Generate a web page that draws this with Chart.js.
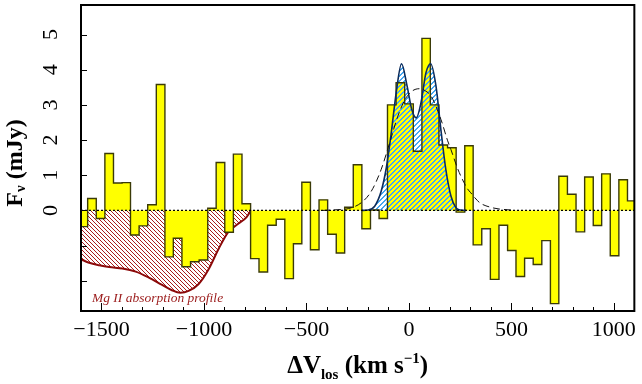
<!DOCTYPE html>
<html>
<head>
<meta charset="utf-8">
<script src="https://cdn.jsdelivr.net/npm/chart.js@4.4.1/dist/chart.umd.min.js"></script>
<style>
  html, body { margin: 0; padding: 0; background: #ffffff; }
  canvas { display: block; }
</style>
</head>
<body>
<canvas id="fluxChart" width="642" height="384"></canvas>
<script>
// velocity bin centres (km/s) and flux density per bin (mJy)
const binCenters = [-1588, -1547, -1505, -1463, -1421, -1379, -1338, -1296, -1254, -1212,
  -1170, -1129, -1087, -1045, -1003, -961, -920, -878, -836, -794,
  -752, -711, -669, -627, -585, -543, -502, -460, -418, -376,
  -334, -293, -251, -209, -167, -125, -84, -42, 0, 42,
  84, 125, 167, 209, 251, 293, 334, 376, 418, 460,
  502, 543, 585, 627, 669, 711, 752, 794, 836, 878,
  920, 961, 1003, 1045, 1087];
const fluxValues = [-0.46, 0.34, -0.23, 1.62, 0.78, 0.79, -0.70, -0.44, 0.16, 3.58,
  -1.32, -0.79, -1.60, -1.46, -1.41, 0.06, 1.36, -0.62, 1.60, 0.19,
  -1.37, -1.75, -0.42, -0.25, -1.94, -0.95, 0.80, -1.12, 0.30, -0.68,
  -1.21, 0.09, 1.30, -0.52, 0.01, -0.23, 3.00, 3.63, 3.03, 1.68,
  4.89, 3.00, 1.86, 1.78, -0.05, 1.84, -0.98, -0.52, -1.96, -0.42,
  -1.14, -1.88, -1.36, -1.54, -0.86, -2.65, 0.97, 0.46, -0.61, 0.95,
  -0.43, 1.04, -1.29, 0.87, 0.27];

// Mg II absorption profile (scaled)
const mgVelocity = [-1600, -1560, -1511, -1463, -1398, -1333, -1269, -1204, -1156, -1115,
  -1075, -1027, -978, -930, -881, -833, -792, -771];
const mgFlux = [-1.39, -1.49, -1.56, -1.61, -1.65, -1.74, -1.91, -2.12, -2.27, -2.34,
  -2.29, -2.10, -1.68, -1.11, -0.61, -0.38, -0.19, 0];

// double gaussian fit
const fitVelocity = [-230, -199, -167, -135, -110, -86, -62, -36, -9, 14,
  36, 59, 83, 106, 132, 156, 180, 205, 229, 253, 280];
const fitFlux = [0, 0.01, 0.12, 0.55, 1.22, 2.21, 3.35, 4.17, 3.54, 2.87,
  2.63, 3.06, 3.91, 4.17, 3.54, 2.30, 1.17, 0.41, 0.08, 0.01, 0];

// single gaussian fit (dashed)
const gaussVelocity = [-420, -350, -296, -232, -183, -135, -94, -54, -14, 30,
  55, 80, 108, 156, 189, 205, 237, 253, 285, 302, 334, 350, 398, 440, 479, 500];
const gaussFlux = [0, 0.02, 0.05, 0.22, 0.55, 1.17, 1.92, 2.68, 3.20, 3.44,
  3.46, 3.40, 3.25, 2.59, 1.98, 1.73, 1.20, 0.98, 0.62, 0.50, 0.28, 0.20, 0.09, 0.04, 0.02, 0.01];

const xTickValues = [-1500, -1000, -500, 0, 500, 1000];
const yTickValues = [0, 1, 2, 3, 4, 5];

const X_MIN = -1600, X_MAX = 1100, Y_MIN = -2.86, Y_MAX = 5.84;

// crisp pixel hatch: stripes of `thick` px every `size` px
function hatch(color, size, thick, rising) {
  const c = document.createElement('canvas');
  c.width = size; c.height = size;
  const g = c.getContext('2d');
  g.fillStyle = color;
  for (let row = 0; row < size; row++) {
    for (let k = 0; k < thick; k++) {
      const col = rising ? (size - 1 - row + k) % size : (row + k) % size;
      g.fillRect(col, row, 1, 1);
    }
  }
  return g.createPattern(c, 'repeat');
}

const ctx = document.getElementById('fluxChart').getContext('2d');

const halfBin = (binCenters[1] - binCenters[0]) / 2;
const histPoints = binCenters.map((c, i) => ({ x: c - halfBin, y: fluxValues[i] }));
histPoints.push({ x: binCenters[binCenters.length - 1] + halfBin, y: fluxValues[fluxValues.length - 1] });

const mgPoints = mgVelocity.map((v, i) => ({ x: v, y: mgFlux[i] }));
const fitPoints = fitVelocity.map((v, i) => ({ x: v, y: fitFlux[i] }));
const gaussPoints = gaussVelocity.map((v, i) => ({ x: v, y: gaussFlux[i] }));

const serif = "'Liberation Serif', 'DejaVu Serif', serif";

function drawRich(c, parts, x, y) {
  let total = 0;
  parts.forEach(p => { c.font = p.font; total += c.measureText(p.t).width; });
  let cx = x - total / 2;
  parts.forEach(p => {
    c.font = p.font;
    c.fillText(p.t, cx, y + (p.dy || 0));
    cx += c.measureText(p.t).width;
  });
}

const framePlugin = {
  id: 'frame',
  afterDatasetsDraw(chart) {
    const { ctx: c, chartArea: a, scales } = chart;
    const x = scales.x, y = scales.y;
    c.save();
    c.strokeStyle = '#000000';
    c.lineWidth = 1;
    c.beginPath();
    for (let v = X_MIN + 100; v < X_MAX; v += 100) {
      const px = Math.round(x.getPixelForValue(v)) + 0.5;
      const len = v % 500 === 0 ? 8 : 4;
      c.moveTo(px, a.bottom); c.lineTo(px, a.bottom - len);
    }
    for (let v = -2; v <= 5; v++) {
      const py = Math.round(y.getPixelForValue(v)) + 0.5;
      c.moveTo(a.left, py); c.lineTo(a.left + 6, py);
    }
    c.stroke();
    c.lineWidth = 2;
    c.strokeRect(a.left, a.top, a.right - a.left, a.bottom - a.top);

    // y tick labels, rotated
    c.fillStyle = '#000000';
    c.font = '22px ' + serif;
    c.textAlign = 'center';
    c.textBaseline = 'alphabetic';
    yTickValues.forEach(v => {
      c.save();
      c.translate(57, y.getPixelForValue(v));
      c.rotate(-Math.PI / 2);
      c.fillText(String(v), 0, 0);
      c.restore();
    });

    // axis titles
    c.textAlign = 'left';
    drawRich(c, [
      { t: '\u0394V', font: 'bold 25px ' + serif },
      { t: 'los', font: 'bold 15px ' + serif, dy: 6 },
      { t: ' (km s', font: 'bold 25px ' + serif },
      { t: '\u22121', font: 'bold 15px ' + serif, dy: -10 },
      { t: ')', font: 'bold 25px ' + serif }
    ], (a.left + a.right) / 2, 373);

    c.save();
    c.translate(22, 163);
    c.rotate(-Math.PI / 2);
    drawRich(c, [
      { t: 'F', font: 'bold 24px ' + serif },
      { t: '\u03bd', font: 'bold 15px ' + serif, dy: 3 },
      { t: ' (mJy)', font: 'bold 24px ' + serif }
    ], 0, 0);
    c.restore();

    c.fillStyle = '#9b1b1b';
    c.font = 'italic 13.5px ' + serif;
    c.fillText('Mg II absorption profile', 92, 302);
    c.restore();
  }
};

const chart = new Chart(ctx, {
  type: 'line',
  data: {
    datasets: [
      {
        label: 'zero',
        data: [{ x: X_MIN, y: 0 }, { x: X_MAX, y: 0 }],
        borderColor: '#000000',
        borderWidth: 1.3,
        borderDash: [2, 2],
        pointRadius: 0,
        fill: false,
        order: 1
      },
      {
        label: 'single gaussian',
        data: gaussPoints,
        borderColor: '#111111',
        borderWidth: 1,
        borderDash: [7, 4],
        pointRadius: 0,
        cubicInterpolationMode: 'monotone',
        fill: false,
        order: 2
      },
      {
        label: 'double gaussian',
        data: fitPoints,
        borderColor: '#0c2c5c',
        borderWidth: 1.6,
        pointRadius: 0,
        cubicInterpolationMode: 'monotone',
        fill: false,
        order: 3
      },
      {
        label: 'histogram outline',
        data: histPoints,
        stepped: 'before',
        borderColor: '#3a3a08',
        borderWidth: 1.4,
        pointRadius: 0,
        fill: false,
        order: 4
      },
      {
        label: 'double gaussian fill',
        data: fitPoints,
        borderWidth: 0,
        borderColor: 'rgba(0,0,0,0)',
        backgroundColor: hatch('#45a6f2', 5, 2, true),
        pointRadius: 0,
        cubicInterpolationMode: 'monotone',
        fill: 'origin',
        order: 5
      },
      {
        label: 'histogram',
        data: histPoints,
        stepped: 'before',
        borderWidth: 0,
        borderColor: 'rgba(0,0,0,0)',
        backgroundColor: '#ffff00',
        pointRadius: 0,
        fill: 'origin',
        order: 6
      },
      {
        label: 'Mg II',
        data: mgPoints,
        borderColor: '#8b0a0a',
        borderWidth: 2,
        backgroundColor: hatch('#a81c1c', 4, 1, false),
        pointRadius: 0,
        cubicInterpolationMode: 'monotone',
        fill: 'origin',
        order: 7
      }
    ]
  },
  options: {
    responsive: false,
    devicePixelRatio: 1,
    animation: false,
    events: [],
    layout: { padding: { top: 5, right: 4, left: 0, bottom: 0 } },
    plugins: {
      legend: { display: false },
      tooltip: { enabled: false }
    },
    scales: {
      x: {
        type: 'linear',
        min: X_MIN,
        max: X_MAX,
        grid: { display: false, drawTicks: false },
        border: { display: false },
        afterBuildTicks: s => { s.ticks = xTickValues.map(v => ({ value: v })); },
        afterFit: s => { s.height = 73; },
        ticks: {
          color: '#000000',
          padding: 6,
          maxRotation: 0,
          font: { family: serif, size: 22 },
          callback: v => (v < 0 ? '\u2212' + Math.abs(v) : String(v))
        }
      },
      y: {
        min: Y_MIN,
        max: Y_MAX,
        grid: { display: false, drawTicks: false },
        border: { display: false },
        afterFit: s => { s.width = 81; },
        ticks: { display: false }
      }
    }
  },
  plugins: [framePlugin]
});
</script>
</body>
</html>
